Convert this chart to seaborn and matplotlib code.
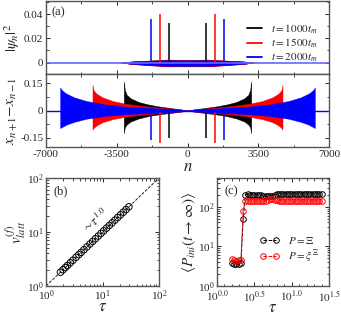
import numpy as np
import pandas as pd
import seaborn as sns
import matplotlib.pyplot as plt
from matplotlib.lines import Line2D
from matplotlib.ticker import FixedLocator, MultipleLocator, NullFormatter

sns.set_style("ticks")
plt.rcParams['font.family'] = ['Liberation Serif', 'DejaVu Serif']
plt.rcParams['mathtext.fontset'] = 'stix'
plt.rcParams['xtick.direction'] = 'in'
plt.rcParams['ytick.direction'] = 'in'
plt.rcParams['xtick.top'] = True
plt.rcParams['ytick.right'] = True
plt.rcParams['axes.edgecolor'] = '#555555'
plt.rcParams['axes.linewidth'] = 1.0

# ---- panel (a) data: envelopes of the oscillating signal (positive n side, mirrored)
labels_a = ['$t=1000t_m$', '$t=1500t_m$', '$t=2000t_m$']
colors_a = ['black', 'red', 'blue']

# spike positions / heights
spike_n = [905, 1350, 1790]
spike_psi = [0.033, 0.040, 0.036]
spike_dx = [-0.151, -0.177, -0.162]

# |psi_n|^2 noise band near centre
psi_n = [0, 1000, 2000, 2800, 3300]
psi_up = [[0.0020, 0.0022, 0.0015, 0.0008, 0.0],
          [0.0022, 0.0025, 0.0016, 0.0009, 0.0],
          [0.0018, 0.0020, 0.0014, 0.0008, 0.0]]
psi_lo = [[-0.0030, -0.0030, -0.0020, -0.0010, 0.0],
          [-0.0032, -0.0032, -0.0022, -0.0012, 0.0],
          [-0.0028, -0.0028, -0.0018, -0.0010, 0.0]]

# x_{n+1}-x_{n-1} envelopes
dx_n = [[0, 300, 800, 1400, 1900, 2400, 2800, 3000, 3100, 3150, 3151],
        [0, 300, 1000, 2000, 3000, 3700, 4200, 4500, 4650, 4700, 4701],
        [0, 300, 1000, 2000, 3000, 4000, 5000, 5600, 6000, 6200, 6300, 6301]]
dx_up = [[0, 0.006, 0.013, 0.022, 0.032, 0.046, 0.066, 0.085, 0.112, 0.159, 0],
         [0, 0.005, 0.012, 0.022, 0.036, 0.052, 0.072, 0.092, 0.112, 0.140, 0],
         [0, 0.004, 0.010, 0.015, 0.021, 0.032, 0.052, 0.072, 0.093, 0.110, 0.126, 0]]
dx_lo = [[0, -0.006, -0.013, -0.021, -0.030, -0.043, -0.060, -0.076, -0.092, -0.124, 0],
         [0, -0.005, -0.012, -0.020, -0.033, -0.047, -0.064, -0.082, -0.096, -0.105, 0],
         [0, -0.004, -0.010, -0.015, -0.020, -0.029, -0.045, -0.062, -0.078, -0.090, -0.096, 0]]

# ---- panel (b) data
tau_b = [1.8, 2.0, 2.2, 2.4, 2.7, 3.0, 3.4, 3.8, 4.2, 4.7, 5.3, 6.0, 6.7, 7.5, 8.4,
         9.4, 10.5, 11.8, 13.2, 14.8, 16.6, 18.6, 20.8, 23.3, 26.1, 29.3]
v_b = [1.8, 2.0, 2.2, 2.4, 2.7, 3.0, 3.4, 3.8, 4.2, 4.7, 5.3, 6.0, 6.7, 7.5, 8.4,
       9.4, 10.5, 11.8, 13.2, 14.8, 16.6, 18.6, 20.8, 23.3, 26.1, 29.3]
fit_tau = [1, 100]
fit_v = [1, 100]

# ---- panel (c) data
tau_c = [1.58, 1.70, 1.82, 1.95, 2.09, 2.24, 2.40, 2.57, 2.75, 2.95, 3.16, 3.39, 3.63,
         3.89, 4.17, 4.47, 4.79, 5.13, 5.50, 5.89, 6.31, 6.76, 7.24, 7.76, 8.32, 8.91,
         9.55, 10.2, 11.0, 11.7, 12.6, 13.5, 14.5, 15.5, 16.6, 17.8, 19.1, 20.4, 21.9,
         23.4, 25.1]
p_xi = [3.8, 3.6, 3.5, 3.6, 3.7, 48, 200, 205, 200, 203, 198, 200, 202, 196, 188,
        184, 182, 185, 190, 200, 206, 208, 210, 207, 210, 212, 208, 210, 212, 209,
        211, 208, 210, 212, 209, 210, 208, 211, 209, 210, 208]
p_sm = [4.7, 4.4, 4.2, 4.4, 4.4, 78, 140, 138, 140, 139, 138, 140, 138, 139, 140,
        142, 150, 158, 160, 152, 145, 140, 139, 140, 138, 139, 140, 138, 140, 139,
        138, 140, 139, 138, 140, 139, 138, 140, 139, 138, 139]
labels_c = ['$P=\\Xi$', '$P=\\xi^{\\Xi}$']

fig = plt.figure(figsize=(3.41, 3.17), dpi=100)
W, H = 341.0, 317.0
def box(l, t, r, b):
    return [l / W, 1 - b / H, (r - l) / W, (b - t) / H]

ax1 = fig.add_axes(box(46, 1, 329, 74))
ax2 = fig.add_axes(box(46, 74, 329, 147))
axb = fig.add_axes(box(46, 178, 159, 286))
axc = fig.add_axes(box(217, 178, 329, 286))

# ---- (a) top
for i, c in enumerate(colors_a):
    n = np.array(psi_n)
    nn = np.concatenate([-n[::-1], n])
    up = np.concatenate([np.array(psi_up[i])[::-1], psi_up[i]])
    lo = np.concatenate([np.array(psi_lo[i])[::-1], psi_lo[i]])
    ax1.fill_between(nn, lo, up, color=c, lw=0.3)
for i, c in enumerate(colors_a):
    ax1.vlines([-spike_n[i], spike_n[i]], 0, spike_psi[i], color=c, lw=1.1)
sns.lineplot(x=[-7000, 7000], y=[0, 0], ax=ax1, color='#6666ff', lw=1.2)
ax1.set_xlim(-7000, 7000)
ax1.set_ylim(-0.0095, 0.051)
ax1.xaxis.set_major_locator(MultipleLocator(3500))
ax1.xaxis.set_minor_locator(MultipleLocator(1750))
ax1.xaxis.set_major_formatter(NullFormatter())
ax1.set_yticks([0, 0.02, 0.04])
ax1.set_yticklabels(['0', '0.02', '0.04'])
ax1.yaxis.set_minor_locator(MultipleLocator(0.01))
ax1.set_ylabel('$|\\psi_n|^2$', fontsize=11, labelpad=1)
ax1.text(0.02, 0.93, '(a)', transform=ax1.transAxes, fontsize=9, va='top')
handles = [Line2D([], [], color=c, lw=1.3) for c in colors_a]
ax1.legend(handles, labels_a, loc='upper right', frameon=False, fontsize=8,
           handlelength=1.4, labelspacing=0.1, borderaxespad=0.6,
           bbox_to_anchor=(1.0, 0.86))

# ---- (a) bottom
for i, c in enumerate(colors_a):
    n = np.array(dx_n[i])
    nn = np.concatenate([-n[::-1], n])
    up = np.concatenate([np.array(dx_up[i])[::-1], dx_up[i]])
    lo = np.concatenate([np.array(dx_lo[i])[::-1], dx_lo[i]])
    ax2.fill_between(nn, lo, up, color=c, lw=0.3)
for i, c in enumerate(colors_a):
    ax2.vlines([-spike_n[i], spike_n[i]], spike_dx[i], 0, color=c, lw=1.1)
sns.lineplot(x=[-7000, 7000], y=[0, 0], ax=ax2, color='blue', lw=1.0)
ax2.set_xlim(-7000, 7000)
ax2.set_ylim(-0.2, 0.2)
ax2.xaxis.set_major_locator(MultipleLocator(3500))
ax2.xaxis.set_minor_locator(MultipleLocator(1750))
ax2.set_xticks([-7000, -3500, 0, 3500, 7000])
ax2.set_xticklabels(['-7000', '-3500', '0', '3500', '7000'])
ax2.set_yticks([-0.15, 0, 0.15])
ax2.set_yticklabels(['-0.15', '0', '0.15'])
ax2.yaxis.set_minor_locator(MultipleLocator(0.075))
ax2.set_ylabel('$x_{n+1}{-}x_{n-1}$', fontsize=11, labelpad=0)
ax2.set_xlabel('$n$', fontsize=12, labelpad=0)

# ---- (b)
sns.lineplot(x=fit_tau, y=fit_v, ax=axb, color='black', lw=0.6, linestyle='--')
sns.scatterplot(x=tau_b, y=v_b, ax=axb, marker='o', s=22, facecolor='none',
                edgecolor='black', linewidth=0.7)
axb.set_xscale('log')
axb.set_yscale('log')
axb.set_xlim(1, 100)
axb.set_ylim(1, 100)
axb.set_xlabel('$\\tau$', fontsize=12, labelpad=-3)
axb.set_ylabel('$v^{(f)}_{latt}$', fontsize=11, labelpad=-1)
axb.text(0.07, 0.93, '(b)', transform=axb.transAxes, fontsize=9, va='top')
axb.text(7.5, 16, '$\\sim\\!\\tau^{1.0}$', fontsize=9, rotation=38,
         ha='center', va='center')

# ---- (c)
df_c = pd.DataFrame({'tau': tau_c + tau_c, 'P': p_xi + p_sm,
                     'kind': [labels_c[0]] * len(tau_c) + [labels_c[1]] * len(tau_c)})
for lab, c in zip(labels_c, ['black', 'red']):
    d = df_c[df_c['kind'] == lab]
    sns.lineplot(data=d, x='tau', y='P', ax=axc, color=c, lw=0.7, linestyle='--',
                 marker='o', markersize=4, markerfacecolor='none',
                 markeredgecolor=c, markeredgewidth=0.7, label=lab)
axc.set_xscale('log')
axc.set_yscale('log')
axc.set_xlim(1, 10 ** 1.5)
axc.set_ylim(1, 530)
axc.xaxis.set_major_locator(FixedLocator([1, 10 ** 0.5, 10, 10 ** 1.5]))
axc.xaxis.set_minor_locator(FixedLocator([10 ** (k / 10) for k in range(16)]))
axc.xaxis.set_minor_formatter(NullFormatter())
axc.set_xticklabels(['$10^{0.0}$', '$10^{0.5}$', '$10^{1.0}$', '$10^{1.5}$'])
axc.set_xlabel('$\\tau$', fontsize=12, labelpad=-3)
axc.set_ylabel('$\\langle P_{ini}(t\\rightarrow\\infty)\\rangle$', fontsize=11, labelpad=0)
axc.text(0.07, 0.93, '(c)', transform=axc.transAxes, fontsize=9, va='top')
axc.legend(loc='lower right', frameon=False, fontsize=8, numpoints=2,
           handlelength=1.8, labelspacing=0.2, borderaxespad=0.5,
           bbox_to_anchor=(1.0, 0.1))

for ax in [ax1, ax2, axb, axc]:
    ax.tick_params(which='major', labelsize=8, length=3, width=0.7, pad=2)
    ax.tick_params(which='minor', length=1.8, width=0.6)

fig.savefig('out.png', dpi=100)
